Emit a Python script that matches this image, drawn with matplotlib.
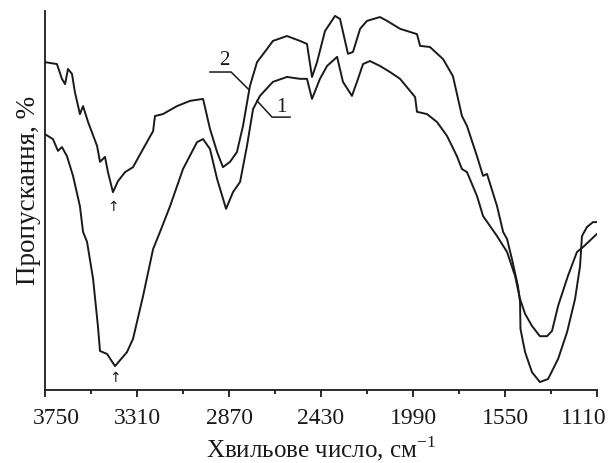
import matplotlib
matplotlib.use("Agg")
import matplotlib.pyplot as plt
from matplotlib.transforms import ScaledTranslation

plt.rcParams['font.family'] = ['Liberation Serif', 'DejaVu Serif']

# Curve 1 (lower spectrum): wavenumber, transmittance (arb. %)
w1 = [3750, 3712, 3688, 3669, 3645, 3616, 3583, 3568, 3549, 3520, 3497, 3487, 3453,
      3415, 3358, 3329, 3281, 3233, 3200, 3152, 3090, 3023, 2994, 2961, 2927, 2884,
      2851, 2817, 2784, 2755, 2722, 2660, 2593, 2530, 2497, 2473, 2435, 2401, 2353,
      2325, 2282, 2258, 2229, 2196, 2148, 2100, 2052, 1980, 1971, 1923, 1875, 1827,
      1780, 1756, 1732, 1684, 1655, 1588, 1540, 1502, 1478, 1454, 1421, 1383, 1349,
      1325, 1296, 1249, 1206, 1177, 1110]
t1 = [67.5, 66.2, 63.1, 64.1, 61.7, 56.5, 48.5, 41.7, 39.1, 29.3, 16.9, 10.3, 9.5,
      6.3, 10.0, 13.5, 24.8, 37.2, 41.7, 48.5, 58.3, 65.4, 66.2, 63.6, 55.7, 47.8,
      52.2, 54.9, 64.4, 74.1, 77.6, 81.3, 82.6, 82.1, 82.1, 76.8, 82.1, 85.5, 87.9,
      81.3, 77.6, 81.3, 86.0, 86.8, 85.5, 83.9, 82.1, 77.3, 73.4, 72.8, 70.7, 67.0,
      61.7, 58.3, 57.5, 51.2, 45.9, 40.6, 36.4, 30.1, 24.0, 20.1, 16.9, 14.2, 14.2,
      15.6, 22.2, 30.1, 36.4, 37.7, 41.2]

# Curve 2 (upper spectrum)
w2 = [3750, 3693, 3669, 3654, 3640, 3621, 3607, 3583, 3568, 3544, 3501, 3487, 3463,
      3449, 3425, 3401, 3367, 3329, 3281, 3233, 3224, 3186, 3119, 3056, 2994, 2961,
      2927, 2899, 2865, 2832, 2803, 2770, 2736, 2688, 2660, 2593, 2530, 2497, 2473,
      2449, 2411, 2363, 2339, 2301, 2277, 2243, 2210, 2148, 2114, 2052, 1971, 1956,
      1909, 1846, 1799, 1756, 1732, 1684, 1655, 1636, 1588, 1559, 1540, 1517, 1488,
      1478, 1476, 1454, 1421, 1383, 1344, 1296, 1253, 1215, 1191, 1182, 1158, 1129, 1110]
t2 = [86.5, 86.0, 82.1, 80.7, 84.7, 83.4, 78.6, 72.8, 74.9, 70.7, 64.4, 60.2, 61.5,
      57.5, 52.2, 55.1, 57.5, 58.8, 63.6, 68.3, 72.3, 72.8, 74.9, 76.3, 76.8, 68.9,
      62.8, 58.8, 60.2, 62.8, 69.7, 80.2, 86.5, 90.0, 92.1, 93.4, 92.1, 91.3, 82.6,
      86.5, 94.7, 98.7, 97.9, 88.7, 89.2, 95.3, 97.4, 98.4, 97.4, 95.3, 93.9, 90.8,
      90.5, 87.3, 82.8, 72.3, 69.7, 61.7, 56.5, 57.0, 48.5, 41.7, 39.8, 34.6, 27.4,
      23.2, 16.1, 10.0, 4.7, 2.1, 2.9, 8.2, 15.3, 24.0, 32.7, 40.6, 43.0, 44.3, 44.3]

major_ticks = [3750, 3310, 2870, 2430, 1990, 1550, 1110]
minor_ticks = [3530, 3090, 2650, 2210, 1770, 1330]

fig = plt.figure(figsize=(6.10, 4.64), dpi=100)
ax = fig.add_axes([45/610, 1-391/464, 552/610, 379/464])

lc = '#1a1a1a'
ax.plot(w1, t1, color=lc, lw=1.4)
ax.plot(w2, t2, color=lc, lw=1.4)

ax.set_xlim(3750, 1110)
ax.set_ylim(0, 100)

for s in ['top', 'right']:
    ax.spines[s].set_visible(False)
for s in ['left', 'bottom']:
    ax.spines[s].set_linewidth(1.3)
    ax.spines[s].set_color(lc)

ax.set_xticks(major_ticks)
ax.set_xticklabels([str(v) for v in major_ticks])
ax.set_xticks(minor_ticks, minor=True)
ax.tick_params(axis='x', which='major', direction='out', length=5, width=1.3,
               labelsize=17, pad=7, colors=lc)
ax.tick_params(axis='x', which='minor', direction='out', length=3, width=1.3, colors=lc)
ax.set_yticks([])

# shift end labels inward as in the reference
labels = ax.get_xticklabels()
labels[0].set_transform(labels[0].get_transform() + ScaledTranslation(11/100, 0, fig.dpi_scale_trans))
labels[-1].set_transform(labels[-1].get_transform() + ScaledTranslation(-13/100, 0, fig.dpi_scale_trans))

ax.set_xlabel('Хвильове число, см$^{\\mathregular{-1}}$', fontsize=18, labelpad=4, color=lc)
ax.set_ylabel('Пропускання, %', fontsize=19.5, labelpad=3, color=lc)
ax.yaxis.label.set_y(0.53)

# curve labels with leader lines
ax.plot([2961, 2860, 2774], [83.9, 83.9, 79.2], color=lc, lw=1.1)
ax.text(2894, 87.3, '2', fontsize=15, ha='center', va='center', color=lc)
ax.plot([2736, 2664, 2578], [76.3, 72.0, 72.0], color=lc, lw=1.1)
ax.text(2621, 74.9, '1', fontsize=15, ha='center', va='center', color=lc)

# arrows marking bands
ax.text(3425, 48.6, '↑', fontsize=10, ha='center', va='center', color=lc,
        family=['DejaVu Sans'])
ax.text(3415, 3.4, '↑', fontsize=10, ha='center', va='center', color=lc,
        family=['DejaVu Sans'])

fig.savefig('out.png', dpi=100)
